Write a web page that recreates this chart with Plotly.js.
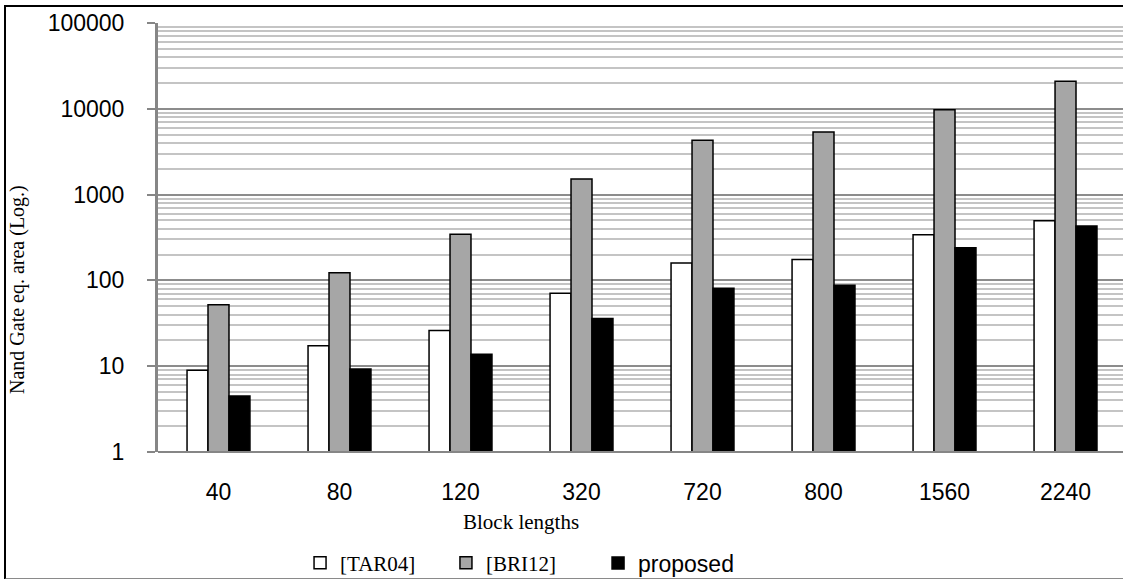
<!DOCTYPE html>
<html>
<head>
<meta charset="utf-8">
<script src="https://cdn.plot.ly/plotly-3.0.1.min.js"></script>
<style>
html,body{margin:0;padding:0;background:#fff;overflow:hidden;}
#wrap{position:relative;width:1123px;height:579px;overflow:hidden;}
#chart{width:1123px;height:579px;}
#frame{position:absolute;left:4px;top:5px;width:1130px;height:571px;border-top:2px solid #000;border-left:2px solid #000;border-bottom:2px solid #8a8a8a;pointer-events:none;}
</style>
</head>
<body>
<div id="wrap"><div id="chart"></div><div id="frame"></div></div>
<script>
const categories = ['40','80','120','320','720','800','1560','2240'];
const tar04 = [9, 17.3, 26, 71, 160, 175, 340, 495];
const bri12 = [52, 123, 345, 1520, 4300, 5350, 9750, 21000];
const proposed = [4.5, 9.3, 13.8, 36, 81, 88, 240, 430];
const seriesNames = ['[TAR04]', '[BRI12]', 'proposed'];

const serif = 'Liberation Serif, Times New Roman, serif';
const sans = 'Liberation Sans, Arial, sans-serif';

const traces = [
  {type:'bar', name:seriesNames[0], x:categories, y:tar04,
   marker:{color:'#ffffff', line:{color:'#000', width:1.5}}, legend:'legend'},
  {type:'bar', name:seriesNames[1], x:categories, y:bri12,
   marker:{color:'#a6a6a6', line:{color:'#000', width:1.5}}, legend:'legend2'},
  {type:'bar', name:seriesNames[2], x:categories, y:proposed,
   marker:{color:'#000000', line:{color:'#000', width:1.5}}, legend:'legend3'}
];

const legBase = {orientation:'h', yanchor:'middle', xanchor:'left', y:-0.2587,
  bgcolor:'rgba(0,0,0,0)', borderwidth:0, itemclick:false};

const layout = {
  width:1123, height:579,
  margin:{l:158, r:0, t:23, b:127, autoexpand:false},
  paper_bgcolor:'#fff', plot_bgcolor:'#fff',
  barmode:'group', bargap:0.48, bargroupgap:0,
  showlegend:true,
  legend:Object.assign({}, legBase, {x:0.1472, font:{family:serif, size:21, color:'#000'}}),
  legend2:Object.assign({}, legBase, {x:0.2984, font:{family:serif, size:21, color:'#000'}}),
  legend3:Object.assign({}, legBase, {x:0.456, font:{family:sans, size:23, color:'#000'}}),
  xaxis:{type:'category', range:[-0.5, 7.475], showgrid:false, zeroline:false,
    showline:false, ticks:'', ticklabelstandoff:24, automargin:false,
    tickfont:{family:sans, size:23, color:'#000'}},
  yaxis:{type:'log', range:[0,5], dtick:1, tickformat:'d', automargin:false,
    showline:true, linecolor:'#868686', linewidth:3,
    ticks:'outside', ticklen:8, tickwidth:2, tickcolor:'#868686',
    ticklabelstandoff:18,
    tickfont:{family:sans, size:23, color:'#000'},
    showgrid:true, gridcolor:'#8c8c8c', gridwidth:2, zeroline:false,
    minor:{dtick:'D1', showgrid:true, gridcolor:'#c4c4c4', gridwidth:2, ticks:''}},
  shapes:[{type:'line', xref:'paper', yref:'paper', x0:0, x1:1, y0:0, y1:0,
    line:{color:'#868686', width:2}}],
  annotations:[
    {text:'Block lengths', xref:'paper', yref:'paper', x:(521-158)/965, y:(452-522)/429,
     xanchor:'center', yanchor:'middle', showarrow:false, font:{family:serif, size:21, color:'#000'}},
    {text:'Nand Gate eq. area (Log.)', xref:'paper', yref:'paper', x:(17-158)/965, y:(452-290)/429,
     xanchor:'center', yanchor:'middle', textangle:-90, showarrow:false, font:{family:serif, size:20, color:'#000'}}
  ]
};

Plotly.newPlot('chart', traces, layout, {displayModeBar:false, staticPlot:true});
</script>
</body>
</html>
